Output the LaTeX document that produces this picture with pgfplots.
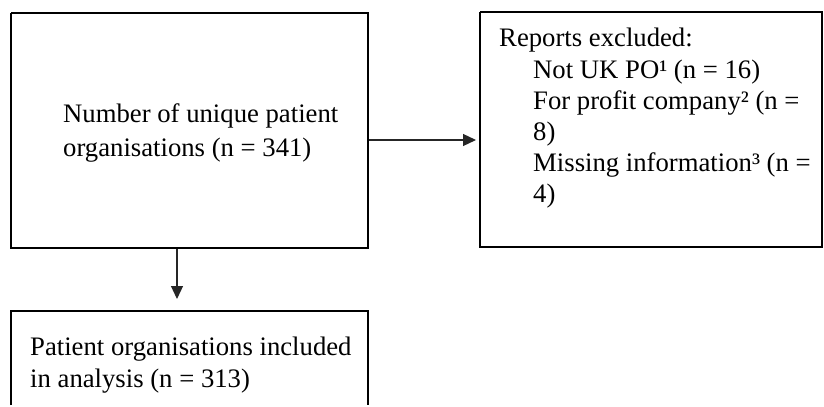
\documentclass[border=0pt]{standalone}
\usepackage{pgfplots}
\pgfplotsset{compat=1.18}
\usetikzlibrary{arrows.meta}
\usepackage{fontspec}
\setmainfont{Liberation Serif}
\begin{document}
\begin{tikzpicture}
\begin{axis}[width=824pt,height=405pt,scale only axis,
  xmin=0,xmax=824,ymin=0,ymax=405,y dir=reverse,
  axis lines=none,clip=false]
\path (axis cs:0,0) rectangle (axis cs:824,405);
% boxes
\addplot[black,line width=2.5pt] coordinates {(11,13) (368,13) (368,248) (11,248) (11,13)};
\addplot[black,line width=2.5pt] coordinates {(480,12) (822,12) (822,247) (480,247) (480,12)};
\addplot[black,line width=2.5pt] coordinates {(11,405) (11,311) (368,311) (368,405)};
% arrows
\addplot[black!85,line width=1.2pt,-{Triangle[length=13pt,width=12pt]}] coordinates {(369,140) (476,140)};
\addplot[black!85,line width=1.2pt,-{Triangle[length=13pt,width=12pt]}] coordinates {(177,249) (177,299)};
% texts
\begin{scope}[every node/.style={anchor=base west,inner sep=0pt,font=\fontsize{26.7}{30}\selectfont}]
\node at (axis cs:63,123) {Number of unique patient};
\node at (axis cs:63,156) {organisations (n = 341)};
\node at (axis cs:499,47) {Reports excluded:};
\node at (axis cs:533,79) {Not UK PO¹ (n = 16)};
\node at (axis cs:533,110) {For profit company² (n =};
\node at (axis cs:533,140) {8)};
\node at (axis cs:533,171) {Missing information³ (n =};
\node at (axis cs:533,202) {4)};
\node at (axis cs:30,355) {Patient organisations included};
\node at (axis cs:30,387) {in analysis (n = 313)};
\end{scope}
\end{axis}
\end{tikzpicture}
\end{document}
